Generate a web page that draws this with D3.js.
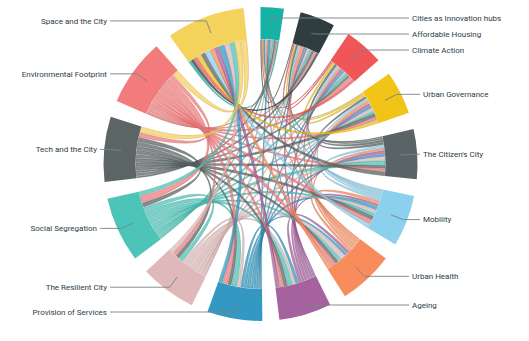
<!DOCTYPE html>
<html>
<head>
<meta charset="utf-8">
<script src="https://cdn.jsdelivr.net/npm/d3@7"></script>
<style>
  html, body { margin: 0; background: #fff; }
  svg { display: block; }
</style>
</head>
<body>
<svg id="chart" width="529" height="341"></svg>
<script>
// Themes, clockwise from the top of the wheel
const themes = [
  "Cities as Innovation hubs", "Affordable Housing", "Climate Action", "Urban Governance",
  "The Citizen's City", "Mobility", "Urban Health", "Ageing", "Provision of Services",
  "The Resilient City", "Social Segregation", "Tech and the City",
  "Environmental Footprint", "Space and the City"
];

const themeColors = [
  "#16b2a6", "#2f3d3e", "#f05657", "#f2c417", "#5a6466", "#8bd0ec", "#f88c5c",
  "#a6619f", "#3399c2", "#dfb9b9", "#4dc4b8", "#5b6565", "#f27b7c", "#f5d25c"
];

// Connection strengths between themes (row = from, column = to)
const links = [
  [0, 2, 3, 2, 3, 4, 3, 2, 5, 3, 4, 5, 3, 4],
  [2, 0, 4, 3, 5, 5, 8, 5, 4, 6, 5, 7, 5, 6],
  [3, 4, 0, 6, 6, 6, 5, 6, 5, 4, 7, 6, 8, 7],
  [2, 3, 6, 0, 6, 5, 7, 7, 6, 7, 6, 10, 7, 8],
  [3, 5, 6, 6, 0, 7, 6, 8, 6, 9, 11, 8, 7, 10],
  [4, 5, 6, 5, 7, 0, 8, 6, 9, 8, 7, 10, 10, 10],
  [3, 8, 5, 7, 6, 8, 0, 8, 7, 11, 8, 9, 12, 10],
  [2, 5, 6, 7, 8, 6, 8, 0, 8, 7, 11, 10, 9, 10],
  [5, 4, 5, 6, 6, 9, 7, 8, 0, 8, 13, 9, 12, 10],
  [3, 6, 4, 7, 9, 8, 11, 7, 8, 0, 11, 10, 9, 11],
  [4, 5, 7, 6, 11, 7, 8, 11, 13, 11, 0, 11, 16, 11],
  [5, 7, 6, 10, 8, 10, 9, 10, 9, 10, 11, 0, 11, 14],
  [3, 5, 8, 7, 7, 10, 12, 9, 12, 9, 16, 11, 0, 15],
  [6, 8, 9, 10, 11, 12, 11, 12, 13, 12, 12, 14, 15, 0]
];

const width = 529, height = 341;
const cx = 260.5, cy = 164;
const innerR = 125, outerR = 157;
const midR = 140, elbowR = 153;

const svg = d3.select("#chart");
const g = svg.append("g").attr("transform", `translate(${cx},${cy})`);

const chord = d3.chord().padAngle(0.1085);
const chords = chord(links);
const groups = chords.groups;

const color = i => themeColors[i];

const arc = d3.arc().innerRadius(innerR).outerRadius(outerR);
const ribbon = d3.ribbon().radius(innerR - 0.5).padAngle(0.006);

// ribbons
g.append("g")
  .selectAll("path")
  .data(chords)
  .join("path")
  .attr("d", ribbon)
  .attr("fill", d => color(d.target.index))
  .attr("fill-opacity", 0.75)
  .attr("stroke", d => d3.color(color(d.target.index)).darker(0.7))
  .attr("stroke-opacity", 0.75)
  .attr("stroke-width", 0.5);

// theme arcs
g.append("g")
  .selectAll("path")
  .data(groups)
  .join("path")
  .attr("d", arc)
  .attr("fill", d => color(d.index));

// label placement: elbow on the arc's mid-angle, spread apart on each side
groups.forEach(d => {
  d.mid = (d.startAngle + d.endAngle) / 2;
  d.right = Math.sin(d.mid) >= 0;
  d.ex = elbowR * Math.sin(d.mid);
  d.ly = -elbowR * Math.cos(d.mid);
});
const topY = 18 - cy, bottomY = 312 - cy, gap = 16;
[true, false].forEach(side => {
  const s = groups.filter(d => d.right === side).sort((a, b) => a.ly - b.ly);
  let prev = -Infinity;
  s.forEach(d => { d.ly = Math.max(d.ly, topY, prev + gap); prev = d.ly; });
  let next = Infinity;
  s.slice().reverse().forEach(d => {
    const limit = d.right ? bottomY - 7 : bottomY;
    d.ly = Math.min(d.ly, limit, next - gap); next = d.ly;
  });
});
groups.forEach(d => {
  const far = Math.abs(d.ex) > 130;
  d.lx = d.right ? (far ? 423 : 412) - cx : (far ? 97 : 107) - cx;
});

const leaders = g.append("g");
leaders.selectAll("polyline")
  .data(groups)
  .join("polyline")
  .attr("points", d => {
    const px = midR * Math.sin(d.mid), py = -midR * Math.cos(d.mid);
    const endX = d.right ? d.lx - 3 : d.lx + 3;
    return [[px, py], [d.ex, d.ly], [endX, d.ly]].map(p => p.join(",")).join(" ");
  })
  .attr("fill", "none")
  .attr("stroke", "#7b8287")
  .attr("stroke-width", 0.9);

leaders.selectAll("text")
  .data(groups)
  .join("text")
  .attr("x", d => d.lx)
  .attr("y", d => d.ly)
  .attr("dy", "0.35em")
  .attr("text-anchor", d => d.right ? "start" : "end")
  .attr("font-family", "Roboto, 'Open Sans', sans-serif")
  .attr("font-size", 8)
  .attr("fill", "#2b3c48")
  .text(d => themes[d.index]);
</script>
</body>
</html>
